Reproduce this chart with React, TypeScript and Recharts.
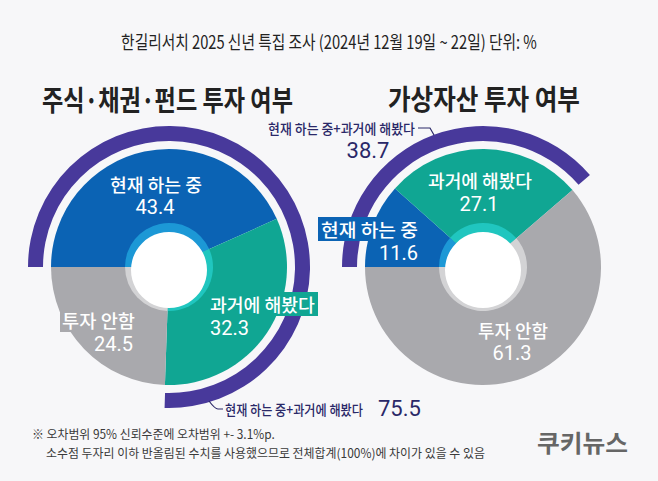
import React, { useLayoutEffect, useRef, useState } from "react";
import { PieChart, Pie, Cell } from "recharts";

// 한길리서치 2025 신년 특집 조사 — values in %
const categories = ["현재 하는 중", "과거에 해봤다", "투자 안함"];
const stockValues = [43.4, 32.3, 24.5];
const cryptoValues = [11.6, 27.1, 61.3];
const stockCombined = 75.5;
const cryptoCombined = 38.7;
const combinedLabel = "현재 하는 중+과거에 해봤다";
const panelTitles = ["주식·채권·펀드 투자 여부", "가상자산 투자 여부"];
const headline = "한길리서치 2025 신년 특집 조사 (2024년 12월 19일 ~ 22일) 단위: %";
const notes = [
  "※ 오차범위 95% 신뢰수준에 오차범위 +- 3.1%p.",
  "소수점 두자리 이하 반올림된 수치를 사용했으므로 전체합계(100%)에 차이가 있을 수 있음",
];

const W = 658;
const H = 481;
const FONT = "'Noto Sans CJK KR', 'Noto Sans', sans-serif";
const NUM_FONT = "Roboto, 'Noto Sans CJK KR', sans-serif";

const COLORS = ["#0b63b4", "#10a693", "#a9a9ad"];
const RING = ["#1c98d6", "#20c6bf", "#d3d3d5"];
const ARC = "#48399b";
const NAVY = "#2a2868";
const BG = "#f7f7f9";

const CY = 267;
const R = 118;
const ARC_IN = 126;
const ARC_OUT = 141;

const toData = (vals: number[]) => categories.map((name, i) => ({ name, value: vals[i] }));
const arcData = (v: number) => [
  { name: combinedLabel, value: v },
  { name: "rest", value: +(100 - v).toFixed(1) },
];

// text squeezed horizontally to a given width (the reference uses a condensed face)
const FitText: React.FC<any> = ({ x, y, width, children, ...rest }) => {
  const ref = useRef<SVGTextElement>(null);
  const [s, setS] = useState(1);
  useLayoutEffect(() => {
    const w = ref.current ? ref.current.getComputedTextLength() : 0;
    if (w > 0) setS(width / w);
  }, [width, children]);
  return (
    <text
      ref={ref}
      x={x}
      y={y}
      transform={`translate(${x * (1 - s)},0) scale(${s},1)`}
      dominantBaseline="central"
      {...rest}
    >
      {children}
    </text>
  );
};

type SliceLayout = {
  dx: number;
  dy: number;
  anchor: "start" | "middle" | "end";
  nameW: number;
  valueDx?: number;
  valueDy?: number;
  box?: { x0: number; w: number; fill: string };
};

const leftLayout: SliceLayout[] = [
  { dx: -13, dy: -83, anchor: "middle", nameW: 92, valueDx: -1, valueDy: 23 },
  { dx: 41, dy: 37, anchor: "start", nameW: 105, valueDy: 24, box: { x0: -3, w: 111, fill: COLORS[1] } },
  { dx: -34, dy: 53, anchor: "end", nameW: 73, valueDx: -2, valueDy: 24, box: { x0: -75, w: 77, fill: COLORS[2] } },
];

const rightLayout: SliceLayout[] = [
  { dx: -65, dy: -38, anchor: "end", nameW: 97, valueDy: 24, box: { x0: -100, w: 102, fill: COLORS[0] } },
  { dx: -3, dy: -87, anchor: "middle", nameW: 104, valueDx: -1, valueDy: 24 },
  { dx: 30, dy: 63, anchor: "middle", nameW: 70, valueDx: -1, valueDy: 23 },
];

type ArcLayout = {
  path: number[][];
  tx: number;
  ty: number;
  anchor: "start" | "end";
  textW: number;
  vx: number;
  vy: number;
  vAnchor: "start" | "middle";
};

const leftArcLayout: ArcLayout = {
  path: [[40, 134], [46, 142], [54, 142]],
  tx: 56, ty: 142, anchor: "start", textW: 138,
  vx: 209, vy: 141, vAnchor: "start",
};
const rightArcLayout: ArcLayout = {
  path: [[-65, -139], [-56, -139], [-49, -132]],
  tx: -68, ty: -139, anchor: "end", textW: 147,
  vx: -115, vy: -117, vAnchor: "middle",
};

const sliceLabel = (layout: SliceLayout[]) => (props: any) => {
  const { cx, cy, index, name, value } = props;
  const l = layout[index];
  const x = cx + l.dx;
  const y = cy + l.dy;
  return (
    <g>
      {l.box && <rect x={x + l.box.x0} y={y - 12} width={l.box.w} height={24} fill={l.box.fill} />}
      <FitText
        x={x}
        y={y}
        width={l.nameW}
        textAnchor={l.anchor}
        fill="#fff"
        fontSize={18}
        fontWeight={500}
        fontFamily={FONT}
      >
        {name}
      </FitText>
      <text
        x={x + (l.valueDx || 0)}
        y={y + (l.valueDy || 23)}
        textAnchor={l.anchor}
        dominantBaseline="central"
        fill="#fff"
        fontSize={20}
        fontFamily={NUM_FONT}
      >
        {Number(value).toFixed(1)}
      </text>
    </g>
  );
};

const arcLabel = (l: ArcLayout) => (props: any) => {
  const { cx, cy, index, name, value } = props;
  if (index !== 0) return null;
  const [a, b, c] = l.path;
  const d = `M${cx + a[0]},${cy + a[1]} Q${cx + b[0]},${cy + b[1]} ${cx + b[0] + 3},${cy + b[1]} L${cx + c[0]},${cy + c[1]}`;
  return (
    <g>
      <path d={d} fill="none" stroke={NAVY} strokeWidth={1.2} />
      <FitText
        x={cx + l.tx}
        y={cy + l.ty}
        width={l.textW}
        textAnchor={l.anchor}
        fill={NAVY}
        fontSize={14}
        fontWeight={500}
        fontFamily={FONT}
      >
        {name}
      </FitText>
      <text
        x={cx + l.vx}
        y={cy + l.vy}
        textAnchor={l.vAnchor}
        dominantBaseline="central"
        fill={NAVY}
        fontSize={22}
        fontFamily={NUM_FONT}
      >
        {Number(value).toFixed(1)}
      </text>
    </g>
  );
};

const donut = (
  key: string,
  cx: number,
  vals: number[],
  combined: number,
  layout: SliceLayout[],
  arcL: ArcLayout
) => {
  const data = toData(vals);
  const arc = arcData(combined);
  const common = { cx, cy: CY, startAngle: 180, endAngle: -180, stroke: "none", isAnimationActive: false, dataKey: "value" };
  return [
    <Pie key={key + "arc"} {...common} data={arc} innerRadius={ARC_IN} outerRadius={ARC_OUT}>
      {arc.map((_, i) => <Cell key={i} fill={i === 0 ? ARC : "transparent"} />)}
    </Pie>,
    <Pie key={key + "main"} {...common} data={data} innerRadius={0} outerRadius={R}>
      {data.map((_, i) => <Cell key={i} fill={COLORS[i]} />)}
    </Pie>,
    <Pie key={key + "ring"} {...common} data={data} innerRadius={0} outerRadius={44}>
      {data.map((_, i) => <Cell key={i} fill={RING[i]} />)}
    </Pie>,
    <Pie key={key + "hole"} {...common} cy={CY + 3} data={[{ name: "hole", value: 1 }]} innerRadius={0} outerRadius={38}>
      <Cell fill="#ffffff" />
    </Pie>,
    <Pie
      key={key + "labels"}
      {...common}
      data={data}
      innerRadius={0}
      outerRadius={R}
      fill="transparent"
      label={sliceLabel(layout)}
      labelLine={false}
    >
      {data.map((_, i) => <Cell key={i} fill="transparent" />)}
    </Pie>,
    <Pie
      key={key + "arclabel"}
      {...common}
      data={arc}
      innerRadius={ARC_IN}
      outerRadius={ARC_OUT}
      fill="transparent"
      label={arcLabel(arcL)}
      labelLine={false}
    >
      {arc.map((_, i) => <Cell key={i} fill="transparent" />)}
    </Pie>,
  ];
};

const App: React.FC = () => {
  return (
    <div style={{ position: "relative", width: W, height: H, background: BG, fontFamily: FONT }}>
      <style>{"body{margin:0}"}</style>
      <PieChart width={W} height={H} margin={{ top: 0, right: 0, bottom: 0, left: 0 }}>
        {donut("l", 169, stockValues, stockCombined, leftLayout, leftArcLayout)}
        {donut("r", 483, cryptoValues, cryptoCombined, rightLayout, rightArcLayout)}
      </PieChart>
      <svg width={W} height={H} style={{ position: "absolute", left: 0, top: 0, pointerEvents: "none" }}>
        <FitText x={329} y={41} width={416} textAnchor="middle" fill="#222" fontSize={18} fontFamily={FONT}>
          {headline}
        </FitText>
        <FitText x={42} y={98} width={251} fill="#222" fontSize={28} fontWeight={700} fontFamily={FONT}>
          {panelTitles[0]}
        </FitText>
        <FitText x={388} y={98} width={192} fill="#222" fontSize={28} fontWeight={700} fontFamily={FONT}>
          {panelTitles[1]}
        </FitText>
        <FitText x={32} y={434} width={243} fill="#3a3a3a" fontSize={12.5} fontFamily={FONT}>
          {notes[0]}
        </FitText>
        <FitText x={46} y={453} width={439} fill="#3a3a3a" fontSize={12.5} fontFamily={FONT}>
          {notes[1]}
        </FitText>
        <FitText x={537} y={442} width={91} fill="#666" fontSize={24} fontWeight={700} fontFamily={FONT}>
          쿠키뉴스
        </FitText>
      </svg>
    </div>
  );
};

export default App;
